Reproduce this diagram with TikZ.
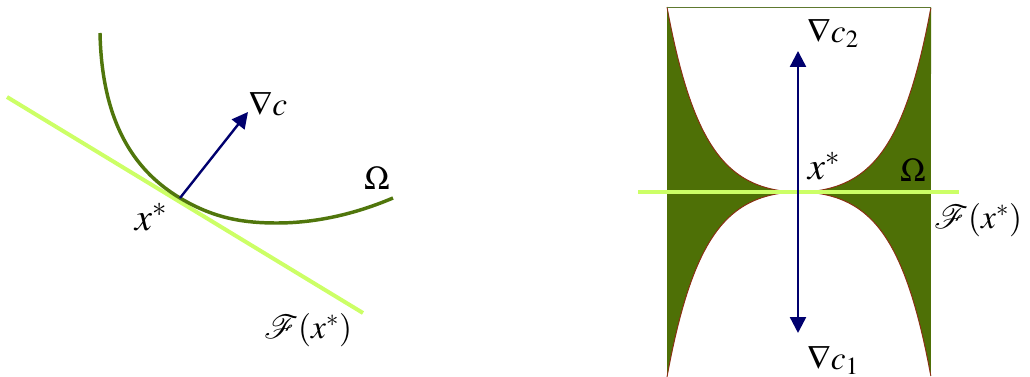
\documentclass[tikz,border=0pt]{standalone}
\usepackage{mathptmx}
\usepackage{mathrsfs}
\usetikzlibrary{arrows.meta}
\definecolor{curvegreen}{RGB}{80,118,12}
\definecolor{fillgreen}{RGB}{78,112,6}
\definecolor{linegreen}{RGB}{204,255,102}
\definecolor{arrownavy}{RGB}{0,0,110}
\definecolor{edgebrown}{RGB}{140,45,20}
\tikzset{
  tangent/.style={linegreen, line width=3pt},
  boundary/.style={curvegreen, line width=2.6pt},
  grad/.style={arrownavy, line width=1.8pt, -{Triangle[length=12pt,width=12pt]}},
  lbl/.style={inner sep=0pt, font=\fontsize{25}{28}\selectfont},
  xlbl/.style={inner sep=0pt, font=\fontsize{29}{32}\selectfont},
  flbl/.style={inner sep=0pt, font=\fontsize{25}{28}\selectfont},
  edge/.style={edgebrown, line width=0.7pt},
}
\begin{document}
\begin{tikzpicture}[x=0.75pt,y=-0.75pt]
\useasboundingbox (0,0) rectangle (1030,377);
% ---------- left figure ----------
\coordinate (tl1) at (7,97);
\coordinate (tl2) at (363,313);
\coordinate (xs) at (180,198);
\coordinate (gc) at (248,112);
\draw[tangent] (tl1) -- (tl2);
\draw[boundary] (100,33) .. controls (102,130) and (140,174) .. (xs)
  .. controls (215,219) and (245,223) .. (277,223)
  .. controls (320,223) and (360,212) .. (393,198);
\draw[grad] (xs) -- (gc);
\node[lbl] (lnabla) at (268,104) {$\nabla c$};
\node[lbl] (lomega) at (377,178) {$\Omega$};
\node[xlbl] (lx) at (151,217) {$x^{*}$};
\node[flbl] (lF) at (308,330) {$\mathscr{F}(x^{*})$};
% ---------- right figure ----------
% region boundary: y = 192 -/+ 185 (cosh(3.7 s)-1)/(cosh 3.7 - 1), x = 799 + 132 s
\fill[fillgreen] (667,7)
  -- plot[domain=-1:0,samples=60] ({799+132*\x},{192-9.617*(cosh(3.7*\x)-1)})
  -- plot[domain=0:-1,samples=60] ({799+132*\x},{192+9.617*(cosh(3.7*\x)-1)})
  -- cycle;
\fill[fillgreen] (931,7)
  -- plot[domain=1:0,samples=60] ({799+132*\x},{192-9.617*(cosh(3.7*\x)-1)})
  -- plot[domain=0:1,samples=60] ({799+132*\x},{192+9.617*(cosh(3.7*\x)-1)})
  -- cycle;
\draw[edge] plot[domain=-1:1,samples=100] ({799+132*\x},{192-9.617*(cosh(3.7*\x)-1)});
\draw[edge] plot[domain=-1:1,samples=100] ({799+132*\x},{192+9.617*(cosh(3.7*\x)-1)});
\draw[curvegreen!70!gray, line width=0.6pt] (667,7) -- (931,7);
\coordinate (rl1) at (638,192);
\coordinate (rl2) at (959,192);
\draw[tangent] (rl1) -- (rl2);
\coordinate (c0) at (798,192);
\coordinate (c2) at (798,51);
\coordinate (c1) at (798,333);
\draw[grad] (c0) -- (c2);
\draw[grad] (c0) -- (c1);
\node[lbl] (rn2) at (833,33) {$\nabla c_{2}$};
\node[lbl] (rn1) at (833,360) {$\nabla c_{1}$};
\node[xlbl] (rx) at (824,166) {$x^{*}$};
\node[lbl] (romega) at (913,170) {$\Omega$};
\node[flbl] (rF) at (978,220) {$\mathscr{F}(x^{*})$};
\end{tikzpicture}
\end{document}
